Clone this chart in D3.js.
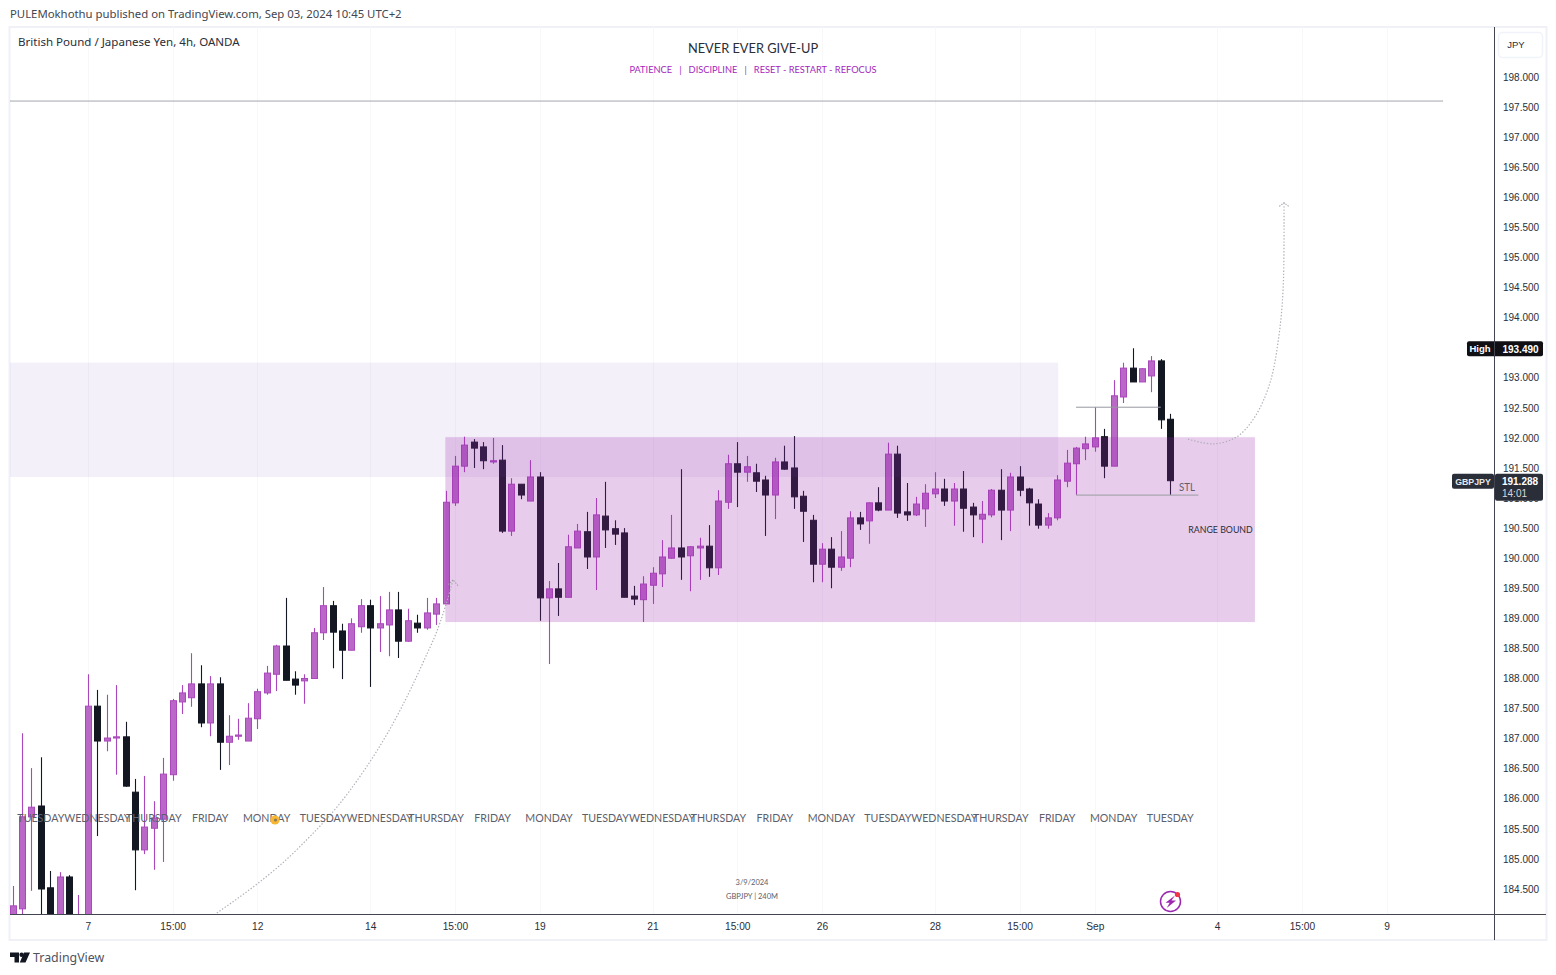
<!DOCTYPE html>
<html><head><meta charset="utf-8">
<script src="https://cdn.jsdelivr.net/npm/d3@7/dist/d3.min.js"></script>
<style>html,body{margin:0;padding:0;background:#fff;overflow:hidden}svg{display:block}</style>
</head><body><svg id="c" width="1556" height="975"></svg>
<script>
const opens=[183.90,184.17,185.70,185.88,184.52,183.90,184.70,183.82,183.82,187.54,186.96,187.01,187.03,186.11,185.15,185.51,185.66,186.40,187.61,187.68,187.91,187.26,187.91,186.94,187.04,186.96,187.33,187.76,188.07,188.54,187.99,187.96,188.00,188.76,189.21,188.79,188.47,188.86,189.21,188.84,188.89,189.14,188.62,188.92,188.84,189.07,189.24,190.92,191.53,191.93,191.85,191.60,191.63,190.45,191.23,190.95,191.35,189.34,189.49,189.35,190.17,190.44,190.02,190.70,190.49,190.42,189.37,189.31,189.55,189.74,190.00,190.17,190.04,190.17,190.20,189.84,190.93,191.57,191.43,191.42,191.30,191.05,191.60,191.50,191.03,190.63,189.90,190.15,189.85,190.00,190.67,190.62,190.92,190.80,191.73,190.77,190.72,190.82,191.07,191.15,190.95,191.15,190.85,190.65,190.72,191.13,190.80,191.35,191.15,190.90,190.55,190.67,191.28,191.57,191.82,191.85,192.02,191.53,192.68,193.16,192.93,193.03,193.28,192.31];
const highs=[184.55,187.09,186.51,186.69,184.80,184.78,184.73,184.40,188.07,187.81,187.73,187.89,187.28,186.33,186.38,185.96,186.68,187.66,187.89,188.42,188.22,188.04,188.02,187.39,187.33,187.59,187.83,188.21,188.56,189.34,188.12,188.07,188.84,189.52,189.29,188.91,189.00,189.32,189.31,189.37,189.44,189.44,189.16,189.06,189.34,189.34,191.12,191.70,192.02,191.98,191.93,192.00,191.88,191.33,191.23,191.63,191.43,189.62,189.92,190.39,190.57,190.77,191.00,191.27,190.63,190.50,189.54,189.70,189.85,190.30,190.72,191.48,190.20,190.34,190.55,191.13,191.72,191.93,191.70,191.57,191.37,191.67,191.87,192.03,191.12,190.72,190.25,190.35,190.45,190.78,190.77,190.93,191.18,191.92,191.87,191.25,191.02,191.23,191.43,191.32,191.25,191.45,190.92,190.95,191.15,191.48,191.42,191.53,191.17,190.98,190.75,191.38,191.80,191.85,192.02,192.51,192.15,192.96,193.25,193.49,193.16,193.36,193.31,192.40];
const lows=[183.82,183.98,184.47,183.90,183.82,183.82,183.82,183.75,183.75,185.38,186.79,186.40,186.20,184.48,185.08,184.82,184.95,186.30,187.41,187.53,187.19,187.04,186.48,186.56,186.98,186.96,187.16,187.73,187.79,187.97,187.73,187.58,188.00,188.64,188.17,187.99,188.47,188.76,187.86,188.44,188.37,188.34,188.61,188.76,188.81,188.89,189.24,190.87,191.43,191.50,191.48,191.57,190.42,190.37,190.98,190.95,188.96,188.24,189.04,189.35,190.17,189.82,189.47,190.17,190.22,189.35,189.22,188.94,189.24,189.52,189.99,189.64,189.45,189.64,189.69,189.72,190.82,190.85,191.27,191.10,190.37,190.65,191.47,190.82,190.27,189.60,189.60,189.50,189.79,189.85,190.47,190.24,190.78,190.80,190.67,190.62,190.70,190.52,191.00,190.87,190.54,190.44,190.35,190.25,190.68,190.30,190.45,191.03,190.54,190.49,190.49,190.63,191.18,191.05,191.63,191.77,191.33,191.53,192.58,192.93,192.93,192.76,192.15,191.05];
const closes=[184.22,185.70,185.86,184.50,183.90,184.70,183.90,184.02,187.54,186.96,187.01,187.03,186.21,185.15,185.53,185.68,186.41,187.63,187.76,187.91,187.26,187.91,186.94,187.04,187.06,187.34,187.78,188.09,188.54,187.97,187.89,188.00,188.76,189.21,188.77,188.47,188.91,189.21,188.84,188.91,189.14,188.62,188.96,188.84,189.09,189.24,190.93,191.53,191.88,191.83,191.62,191.62,190.45,191.23,191.05,191.35,189.34,189.49,189.35,190.19,190.45,190.02,190.72,190.47,190.40,189.35,189.32,189.57,189.75,190.02,190.17,190.02,190.19,190.20,189.84,190.95,191.57,191.43,191.52,191.28,191.05,191.60,191.48,191.02,190.78,189.90,190.15,189.85,190.02,190.67,190.57,190.92,190.80,191.73,190.75,190.72,190.90,191.08,191.15,190.95,191.15,190.83,190.72,190.73,191.13,190.80,191.35,191.13,190.92,190.55,190.67,191.30,191.58,191.83,191.90,192.00,191.53,192.70,193.16,192.93,193.15,193.28,192.30,191.288];

const priceTicks=[184.5,185,185.5,186,186.5,187,187.5,188,188.5,189,189.5,190,190.5,191,191.5,192,192.5,193,193.5,194,194.5,195,195.5,196,196.5,197,197.5,198];
const timeTickBars=[8,17,26,38,47,56,68,77,86,98,107,115,128,137,146];
const timeTickLabels=["7","15:00","12","14","15:00","19","21","15:00","26","28","15:00","Sep","4","15:00","9"];
const dayBars=[3,9,15,21,27,33,39,45,51,57,63,69,75,81,87,93,99,105,111,117,123];
const dayNames=["TUESDAY","WEDNESDAY","THURSDAY","FRIDAY","MONDAY","TUESDAY","WEDNESDAY","THURSDAY","FRIDAY","MONDAY","TUESDAY","WEDNESDAY","THURSDAY","FRIDAY","MONDAY","TUESDAY","WEDNESDAY","THURSDAY","FRIDAY","MONDAY","TUESDAY"];
const resistanceLine=[-0.3,152,197.6];
const highLine=[113,122,192.51];
const stlLine=[113,126,191.05];
const supplyZone=[-0.3,111.1,193.25,191.35];
const rangeZone=[46,132,192.01,188.94];
const curveUp=[[21.7,184.10],[30.5,185.20],[35.9,186.15],[41.2,187.48],[43.6,188.26],[45.4,188.92],[46.5,189.47],[46.8,189.64]];
const arrowUp=[[46.3,189.56],[46.8,189.64],[47.4,189.53]];
const curveNext=[[124.9,191.98],[127.6,191.90],[130.1,192.02],[132,192.35],[133.6,192.91],[134.5,193.63],[135,194.46],[135.1,195.91]];
const arrowNext=[[134.6,195.85],[135.1,195.91],[135.6,195.85]];
const highValue=193.49, lastValue=191.288;

const svg=d3.select("#c");
const x=d3.scaleLinear().domain([0,146]).range([12.6,1386.6]);
const y=d3.scaleLinear().domain([184.5,198]).range([889,77]);
const BODY="Noto Sans, sans-serif", NARROW="Lato, sans-serif", AXIS="Liberation Sans, Arial, sans-serif";
const purple="#ab47bc", purpleFill="#ba68c8", dark="#131722";
const squeeze=(sel,f)=>sel.each(function(){const n=this.getComputedTextLength();d3.select(this).attr("textLength",n*f).attr("lengthAdjust","spacingAndGlyphs");});

svg.append("defs").append("clipPath").attr("id","plot").append("rect").attr("x",10).attr("y",27).attr("width",1484).attr("height",887);

// frame
svg.append("rect").attr("x",9.5).attr("y",27).attr("width",1537).attr("height",913).attr("fill","#fff").attr("stroke","#f0f1f7").attr("stroke-width",2);

const plot=svg.append("g").attr("clip-path","url(#plot)");
// grid
plot.append("g").selectAll("line").data(timeTickBars).join("line")
 .attr("x1",d=>Math.round(x(d))+.5).attr("x2",d=>Math.round(x(d))+.5).attr("y1",27).attr("y2",914).attr("stroke","#f8f8fb");

// candles
const idx=d3.range(opens.length);
const g=plot.append("g");
g.selectAll("line.w").data(idx).join("line").attr("class","w")
 .attr("x1",i=>Math.round(x(i))+.5).attr("x2",i=>Math.round(x(i))+.5)
 .attr("y1",i=>y(highs[i])).attr("y2",i=>y(lows[i]))
 .attr("stroke",i=>closes[i]>=opens[i]?purple:dark).attr("stroke-width",1.1);
g.selectAll("rect.b").data(idx).join("rect").attr("class","b")
 .attr("x",i=>Math.round(x(i))-2.5).attr("width",6)
 .attr("y",i=>y(Math.max(opens[i],closes[i]))).attr("height",i=>Math.max(1,Math.abs(y(opens[i])-y(closes[i]))))
 .attr("fill",i=>closes[i]>=opens[i]?purpleFill:dark)
 .attr("stroke",i=>closes[i]>=opens[i]?purple:dark).attr("stroke-width",1);

// zones
plot.append("rect").attr("x",x(supplyZone[0])).attr("width",x(supplyZone[1])-x(supplyZone[0]))
 .attr("y",y(supplyZone[2])).attr("height",y(supplyZone[3])-y(supplyZone[2])).attr("fill","rgba(103,58,183,0.08)");
plot.append("rect").attr("x",x(rangeZone[0])).attr("width",x(rangeZone[1])-x(rangeZone[0]))
 .attr("y",y(rangeZone[2])).attr("height",y(rangeZone[3])-y(rangeZone[2]))
 .attr("fill","rgba(156,39,176,0.235)").attr("stroke","rgba(156,39,176,0.04)").attr("stroke-width",1);

// lines
plot.append("line").attr("x1",x(resistanceLine[0])).attr("x2",x(resistanceLine[1])).attr("y1",y(resistanceLine[2])).attr("y2",y(resistanceLine[2])).attr("stroke","#a3a6ae").attr("stroke-width",1);
plot.append("line").attr("x1",x(highLine[0])).attr("x2",x(highLine[1])).attr("y1",y(highLine[2])).attr("y2",y(highLine[2])).attr("stroke","#9598a1").attr("stroke-width",1);
plot.append("line").attr("x1",x(stlLine[0])).attr("x2",x(stlLine[1])).attr("y1",y(stlLine[2])).attr("y2",y(stlLine[2])).attr("stroke","#a8a6b0").attr("stroke-width",1.3);

// dotted curves
const cv=d3.line().x(d=>x(d[0])).y(d=>y(d[1])).curve(d3.curveMonotoneX);
const st=d3.line().x(d=>x(d[0])).y(d=>y(d[1]));
[[curveUp,arrowUp],[curveNext,arrowNext]].forEach(([c,a])=>{
 plot.append("path").attr("d",(c===curveNext?d3.line().x(d=>x(d[0])).y(d=>y(d[1])).curve(d3.curveCatmullRom):cv)(c)).attr("fill","none").attr("stroke","#aeb0b8").attr("stroke-width",1.2).attr("stroke-dasharray","1.4 1.8");
 plot.append("path").attr("d",st(a)).attr("fill","none").attr("stroke","#9ea0a8").attr("stroke-width",1.1).attr("stroke-dasharray","1.3 1.3");
});

// day labels
plot.append("g").selectAll("text").data(dayBars).join("text")
 .attr("x",d=>x(d)).attr("y",822).attr("text-anchor","middle").attr("font-family",NARROW).attr("font-size",12).attr("fill","#5d606b")
 .text((d,i)=>dayNames[i]).call(squeeze,0.885);

// annotations
svg.append("text").attr("x",x(124.8)).attr("y",y(191.11)).attr("text-anchor","middle").attr("font-family",NARROW).attr("font-size",11).attr("fill","#5d606b").text("STL").call(squeeze,0.88);
svg.append("text").attr("x",x(128.35)).attr("y",y(190.42)).attr("text-anchor","middle").attr("font-family",NARROW).attr("font-size",10).attr("fill","#2a2e39").text("RANGE BOUND").call(squeeze,0.88);
svg.append("text").attr("x",753).attr("y",53).attr("text-anchor","middle").attr("font-family",NARROW).attr("font-size",13).attr("fill","#2a2e39").text("NEVER EVER GIVE-UP").call(squeeze,0.985);
svg.append("text").attr("x",753).attr("y",73).attr("text-anchor","middle").attr("font-family",NARROW).attr("font-size",10).attr("fill","#a51fbd").attr("xml:space","preserve").text("PATIENCE   |   DISCIPLINE   |   RESET - RESTART - REFOCUS").call(squeeze,0.925);
svg.append("text").attr("x",752).attr("y",885).attr("text-anchor","middle").attr("font-family",NARROW).attr("font-size",7.5).attr("fill","#5d606b").text("3/9/2024");
svg.append("text").attr("x",752).attr("y",899).attr("text-anchor","middle").attr("font-family",NARROW).attr("font-size",7.5).attr("fill","#5d606b").text("GBPJPY | 240M");

// header
svg.append("text").attr("x",10).attr("y",18).attr("font-family",BODY).attr("font-size",11.35).attr("fill","#434651").text("PULEMokhothu published on TradingView.com, Sep 03, 2024 10:45 UTC+2");
svg.append("text").attr("x",18).attr("y",46).attr("font-family",BODY).attr("font-size",11.55).attr("fill","#2a2e39").text("British Pound / Japanese Yen, 4h, OANDA");

// axes lines
svg.append("line").attr("x1",1494.5).attr("x2",1494.5).attr("y1",27).attr("y2",940).attr("stroke","#434651");
svg.append("line").attr("x1",10).attr("x2",1546).attr("y1",914.5).attr("y2",914.5).attr("stroke","#434651");

// y axis
const ya=svg.append("g").attr("transform","translate(1494,0)").call(d3.axisRight(y).tickValues(priceTicks).tickSize(0).tickPadding(9).tickFormat(d3.format(".3f")));
ya.select(".domain").remove();
ya.selectAll("text").attr("font-family",AXIS).attr("font-size",10).attr("fill","#2a2e39");
// x axis
const xa=svg.append("g").attr("transform","translate(0,914)").call(d3.axisBottom(x).tickValues(timeTickBars).tickSize(0).tickPadding(9).tickFormat((d,i)=>timeTickLabels[i]));
xa.select(".domain").remove();
xa.selectAll("text").attr("font-family",AXIS).attr("font-size",10.2).attr("fill","#2a2e39");

// JPY button
svg.append("rect").attr("x",1498.5).attr("y",32.5).attr("width",44).attr("height",25).attr("rx",4).attr("fill","#fff").attr("stroke","#f0f3fa").attr("stroke-width",1.5);
svg.append("text").attr("x",1516).attr("y",47.5).attr("text-anchor","middle").attr("font-family",AXIS).attr("font-size",9.5).attr("fill","#2a2e39").text("JPY");

// High tag
const yh=y(highValue);
svg.append("rect").attr("x",1467).attr("y",yh-7).attr("width",76).attr("height",15).attr("rx",2).attr("fill","#0f0f14");
svg.append("line").attr("x1",1494.5).attr("x2",1494.5).attr("y1",yh-7).attr("y2",yh+8).attr("stroke","#434651");
svg.append("text").attr("x",1480).attr("y",yh+4).attr("text-anchor","middle").attr("font-family",AXIS).attr("font-weight","bold").attr("font-size",9.5).attr("fill","#fff").text("High");
svg.append("text").attr("x",1520.5).attr("y",yh+4.5).attr("text-anchor","middle").attr("font-family",AXIS).attr("font-weight","bold").attr("font-size",10).attr("fill","#fff").text(highValue.toFixed(3));

// Last price tag
const yl=y(lastValue);
svg.append("rect").attr("x",1452).attr("y",yl-7).attr("width",42).attr("height",15).attr("rx",2).attr("fill","#2a2e39");
svg.append("rect").attr("x",1495).attr("y",yl-7).attr("width",48).attr("height",27).attr("rx",2).attr("fill","#2a2e39");
svg.append("text").attr("x",1473).attr("y",yl+4).attr("text-anchor","middle").attr("font-family",AXIS).attr("font-weight","bold").attr("font-size",8.8).attr("fill","#e6e7ea").text("GBPJPY");
svg.append("text").attr("x",1520).attr("y",yl+4.5).attr("text-anchor","middle").attr("font-family",AXIS).attr("font-weight","bold").attr("font-size",10).attr("fill","#fff").text(lastValue.toFixed(3));
svg.append("text").attr("x",1514.5).attr("y",yl+16.5).attr("text-anchor","middle").attr("font-family",AXIS).attr("font-size",10).attr("fill","#d8d9dd").text("14:01");

// bolt icon
const ic=svg.append("g").attr("transform","translate(1170.5,901.5)");
ic.append("circle").attr("r",10).attr("fill","#fff").attr("stroke","#9c27b0").attr("stroke-width",1.5);
ic.append("path").attr("d","M4.5 -6 L-5 1.2 L-0.8 1.2 L-3.8 6.5 L5.5 -1 L1 -1 Z").attr("fill","#9c27b0");
ic.append("circle").attr("cx",7).attr("cy",-7).attr("r",2.6).attr("fill","#f23645");

// small emoji
const em=svg.append("g").attr("transform","translate(275,820)");
em.append("circle").attr("r",4.6).attr("fill","#f7b733");
em.append("circle").attr("r",1.6).attr("cx",.5).attr("cy",0).attr("fill","#8a7a5a");

// TradingView logo
svg.append("path").attr("d","M10 952.5 H19 V962.5 H14.5 V957 H10 Z M24 952.5 H30 L25.5 962.5 H19.8 Z").attr("fill","#131722");
svg.append("circle").attr("cx",21.6).attr("cy",954.8).attr("r",2.2).attr("fill","#131722");
svg.append("text").attr("x",33).attr("y",962).attr("font-family",BODY).attr("font-size",12.4).attr("fill","#50535e").text("TradingView");
</script></body></html>
